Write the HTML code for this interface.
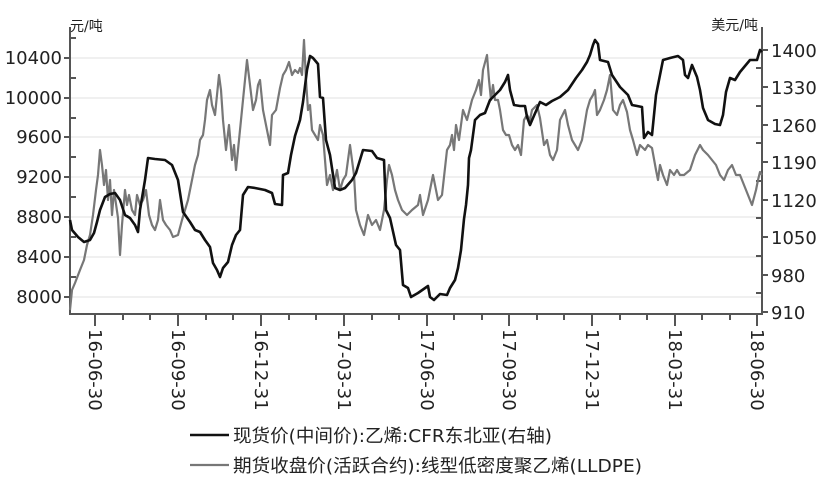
<!DOCTYPE html>
<html><head><meta charset="utf-8"><style>
body{margin:0;background:#fff}
svg text{font-family:"DejaVu Sans","Noto Sans CJK SC",sans-serif;fill:#222}
</style></head><body>
<svg width="831" height="486" viewBox="0 0 831 486" xmlns="http://www.w3.org/2000/svg">
<g stroke="#e2e2e2" stroke-width="1">
<line x1="70" x2="762" y1="58" y2="58"/><line x1="70" x2="762" y1="98" y2="98"/><line x1="70" x2="762" y1="137" y2="137"/><line x1="70" x2="762" y1="177" y2="177"/><line x1="70" x2="762" y1="217" y2="217"/><line x1="70" x2="762" y1="257" y2="257"/><line x1="70" x2="762" y1="297" y2="297"/>
</g>
<g stroke="#555" stroke-width="2" fill="none">
<polyline points="70,27 70,314 762,314 762,27"/>
</g>
<g stroke="#555" stroke-width="2">
<line x1="64" x2="70" y1="58" y2="58"/><line x1="64" x2="70" y1="98" y2="98"/><line x1="64" x2="70" y1="137" y2="137"/><line x1="64" x2="70" y1="177" y2="177"/><line x1="64" x2="70" y1="217" y2="217"/><line x1="64" x2="70" y1="257" y2="257"/><line x1="64" x2="70" y1="297" y2="297"/>
<line x1="70" x2="76" y1="38" y2="38"/><line x1="70" x2="76" y1="78" y2="78"/><line x1="70" x2="76" y1="118" y2="118"/><line x1="70" x2="76" y1="157" y2="157"/><line x1="70" x2="76" y1="197" y2="197"/><line x1="70" x2="76" y1="237" y2="237"/><line x1="70" x2="76" y1="277" y2="277"/>
<line x1="762" x2="768" y1="50" y2="50"/><line x1="762" x2="768" y1="87" y2="87"/><line x1="762" x2="768" y1="125" y2="125"/><line x1="762" x2="768" y1="162" y2="162"/><line x1="762" x2="768" y1="200" y2="200"/><line x1="762" x2="768" y1="237" y2="237"/><line x1="762" x2="768" y1="275" y2="275"/><line x1="762" x2="768" y1="312" y2="312"/>
<line x1="756" x2="762" y1="68" y2="68"/><line x1="756" x2="762" y1="106" y2="106"/><line x1="756" x2="762" y1="143" y2="143"/><line x1="756" x2="762" y1="181" y2="181"/><line x1="756" x2="762" y1="218" y2="218"/><line x1="756" x2="762" y1="256" y2="256"/><line x1="756" x2="762" y1="293" y2="293"/>
<line x1="95" x2="95" y1="314" y2="326"/><line x1="178" x2="178" y1="314" y2="326"/><line x1="261" x2="261" y1="314" y2="326"/><line x1="344" x2="344" y1="314" y2="326"/><line x1="427" x2="427" y1="314" y2="326"/><line x1="509" x2="509" y1="314" y2="326"/><line x1="592" x2="592" y1="314" y2="326"/><line x1="675" x2="675" y1="314" y2="326"/><line x1="757" x2="757" y1="314" y2="326"/>
<line x1="123" x2="123" y1="314" y2="320"/><line x1="150" x2="150" y1="314" y2="320"/><line x1="206" x2="206" y1="314" y2="320"/><line x1="233" x2="233" y1="314" y2="320"/><line x1="289" x2="289" y1="314" y2="320"/><line x1="316" x2="316" y1="314" y2="320"/><line x1="372" x2="372" y1="314" y2="320"/><line x1="399" x2="399" y1="314" y2="320"/><line x1="454" x2="454" y1="314" y2="320"/><line x1="482" x2="482" y1="314" y2="320"/><line x1="537" x2="537" y1="314" y2="320"/><line x1="564" x2="564" y1="314" y2="320"/><line x1="620" x2="620" y1="314" y2="320"/><line x1="647" x2="647" y1="314" y2="320"/><line x1="702" x2="702" y1="314" y2="320"/><line x1="730" x2="730" y1="314" y2="320"/>
</g>
<g font-size="18" text-anchor="end">
<text x="62" y="64">10400</text><text x="62" y="104">10000</text><text x="62" y="143">9600</text><text x="62" y="183">9200</text><text x="62" y="223">8800</text><text x="62" y="263">8400</text><text x="62" y="303">8000</text>
</g>
<g font-size="18">
<text x="771" y="57">1400</text><text x="771" y="94">1330</text><text x="771" y="132">1260</text><text x="771" y="169">1190</text><text x="771" y="207">1120</text><text x="771" y="244">1050</text><text x="771" y="282">980</text><text x="771" y="319">910</text>
</g>
<text x="70" y="31" font-size="14">元/吨</text>
<text x="758" y="30" font-size="14" text-anchor="end">美元/吨</text>
<g font-size="18">
<text transform="translate(89,329) rotate(90)">16-06-30</text>
<text transform="translate(172,329) rotate(90)">16-09-30</text>
<text transform="translate(255,329) rotate(90)">16-12-31</text>
<text transform="translate(338,329) rotate(90)">17-03-31</text>
<text transform="translate(421,329) rotate(90)">17-06-30</text>
<text transform="translate(503,329) rotate(90)">17-09-30</text>
<text transform="translate(586,329) rotate(90)">17-12-31</text>
<text transform="translate(669,329) rotate(90)">18-03-31</text>
<text transform="translate(751,329) rotate(90)">18-06-30</text>
</g>
<polyline fill="none" stroke="#777" stroke-width="2.2" stroke-linejoin="round" points="70,310 72,290 75,283 80,270 84,260 87,245 90,235 93,215 96,190 98,175 100,150 102,165 104,185 106,170 108,200 110,180 112,215 114,190 118,218 120,255 122,225 125,190 127,205 129,195 132,210 135,215 137,195 140,205 143,200 146,190 149,215 152,225 155,230 158,220 160,200 163,220 166,225 170,230 173,237 178,235 182,220 188,200 192,180 195,165 198,155 200,140 203,135 205,120 207,100 210,90 212,105 215,115 217,95 219,75 221,90 223,120 226,150 229,125 232,160 234,145 236,170 240,130 243,100 245,80 247,60 250,85 253,110 256,100 258,85 260,80 263,110 267,130 270,145 272,115 276,110 280,88 283,75 286,70 289,62 292,75 295,70 298,73 300,68 302,75 304,40 306,80 308,110 310,105 312,130 318,140 320,125 323,135 327,185 330,175 333,190 337,170 340,190 343,180 346,175 350,145 354,175 356,210 360,225 364,235 368,215 372,225 376,220 380,230 384,210 387,180 389,165 392,175 395,190 398,200 402,210 407,215 412,210 418,205 420,195 423,215 428,200 433,175 438,200 442,195 447,150 450,145 452,135 454,150 456,125 459,140 463,110 467,120 472,100 476,90 479,80 481,95 483,70 487,55 489,80 491,100 493,85 495,100 498,100 500,110 503,130 506,135 509,135 512,145 515,150 518,145 521,155 524,120 527,115 530,120 532,110 537,105 540,118 544,145 547,140 550,155 553,160 557,150 560,120 565,110 568,125 572,140 575,145 578,150 582,140 587,110 590,100 593,95 595,90 597,115 600,110 604,100 607,90 610,75 613,110 617,115 620,105 623,100 627,112 630,130 633,140 637,155 640,145 645,150 648,145 652,148 656,170 658,180 660,165 663,175 667,185 670,170 674,175 677,170 680,175 684,175 690,170 695,155 700,145 703,150 708,155 712,160 716,165 720,175 724,180 728,170 732,165 736,175 740,175 744,185 748,195 752,205 756,190 758,180 760,172 762,175"/>
<polyline fill="none" stroke="#111" stroke-width="2.6" stroke-linejoin="round" points="70,220 72,230 78,237 84,242 90,240 94,233 97,222 100,210 105,197 110,194 115,193 120,200 125,215 130,218 135,225 138,232 140,210 145,180 148,158 155,159 165,160 172,165 178,180 183,212 190,222 195,230 200,232 205,240 210,247 213,263 217,270 220,277 223,268 228,262 232,245 236,235 240,230 243,195 248,187 255,188 265,190 272,193 275,204 282,205 283,175 288,173 291,155 295,136 300,120 303,102 307,70 310,56 313,58 318,64 320,97 323,98 326,140 330,155 335,188 340,190 345,188 352,180 356,173 363,150 372,151 377,158 384,160 386,210 390,218 396,245 400,250 403,285 408,288 411,297 418,293 428,286 430,297 434,300 440,294 447,295 450,288 455,280 458,268 461,250 464,219 466,205 468,185 469,158 471,150 475,120 480,115 485,113 490,100 495,95 500,90 505,82 508,75 510,90 514,105 520,106 525,106 527,117 530,125 533,118 540,102 546,105 552,101 560,97 568,90 576,78 582,70 587,62 590,55 593,45 595,40 598,44 600,60 608,62 612,75 620,87 628,95 632,105 642,107 644,138 648,132 652,135 656,95 660,75 663,60 670,58 678,56 683,60 685,75 688,78 692,65 697,77 700,90 703,108 708,120 715,124 720,125 723,115 726,92 730,78 735,80 740,72 745,66 750,60 757,60 760,50 762,52"/>
<line x1="190" x2="229" y1="435" y2="435" stroke="#111" stroke-width="2.6"/>
<line x1="190" x2="229" y1="465" y2="465" stroke="#777" stroke-width="2.2"/>
<text x="233" y="442" font-size="18" textLength="319" lengthAdjust="spacingAndGlyphs">现货价(中间价):乙烯:CFR东北亚(右轴)</text>
<text x="233" y="472" font-size="18" textLength="409" lengthAdjust="spacingAndGlyphs">期货收盘价(活跃合约):线型低密度聚乙烯(LLDPE)</text>
</svg>
</body></html>
